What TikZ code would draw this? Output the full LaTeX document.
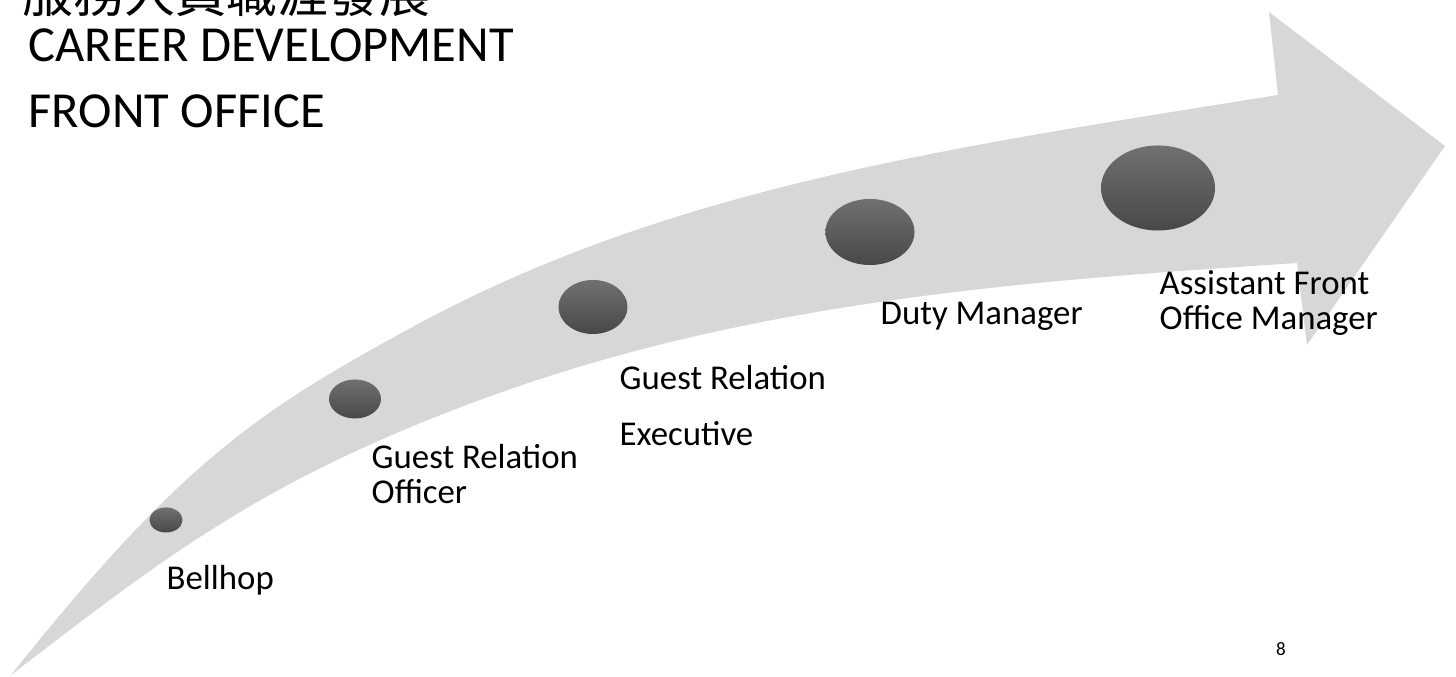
\documentclass[tikz,border=0pt]{standalone}
\usepackage{fontspec}
\setmainfont{Carlito}
\newfontfamily\cjkfont{Noto Sans CJK TC}
\usetikzlibrary{shapes.geometric,positioning}

\definecolor{bandgray}{RGB}{215,215,215}
\definecolor{dottop}{RGB}{112,112,112}
\definecolor{dotbottom}{RGB}{72,72,72}

\tikzset{
	stage/.style={ellipse, top color=dottop, bottom color=dotbottom,
		inner sep=0pt, draw=none},
	stagelabel/.style={anchor=base west, inner sep=0pt, align=left,
		font=\fontsize{9.9}{10}\selectfont}
}

\begin{document}
\begin{tikzpicture}[x=0.01cm,y=-0.01cm]

\clip (0,0) rectangle (1456,677);

% Curved arrow
\fill[bandgray] (11,675)
	.. controls (181,462) and (257,412) .. (407,330)
	.. controls (667,187) and (948,148) .. (1278,95)
	-- (1269,12) -- (1445,146) -- (1307,345) -- (1297,263)
	.. controls (1027,281) and (750,300) .. (480,400)
	.. controls (260,481) and (161,560) .. (11,675)
	-- cycle;

% Title
\node[anchor=base west,
	inner sep=0pt,
	font=\fontsize{14.5}{15}\cjkfont
] (titlecjk) at (22,13) {服務人員職涯發展};

\node[anchor=base west,
	inner sep=0pt,
	align=left,
	font=\fontsize{14.35}{18.8}\selectfont
] (title) at (28,128) {CAREER DEVELOPMENT\\FRONT OFFICE};

% Stages
\node[stage, minimum width=0.33cm, minimum height=0.25cm] (bellhop) at (166,520) {};
\node[stage, minimum width=0.52cm, minimum height=0.39cm] (gro) at (355,399) {};
\node[stage, minimum width=0.69cm, minimum height=0.54cm] (gre) at (593,307) {};
\node[stage, minimum width=0.89cm, minimum height=0.66cm] (duty) at (870,232) {};
\node[stage, minimum width=1.14cm, minimum height=0.85cm] (afom) at (1158,188) {};

% Stage labels
\node[stagelabel] (bellhoplabel) at (166,590) {Bellhop};
\node[stagelabel] (grolabel) at (371,504) {Guest Relation\\Officer};
\node[stagelabel] (grelabel) at (619,446) {Guest Relation\\[6.2pt]Executive};
\node[stagelabel] (dutylabel) at (880,325) {Duty Manager};
\node[stagelabel] (afomlabel) at (1159,330) {Assistant Front\\Office Manager};

% Page number
\node[anchor=base,
	inner sep=0pt,
	font=\fontsize{5.4}{6}\selectfont
] (pagenum) at (1281,656) {8};

\end{tikzpicture}
\end{document}
